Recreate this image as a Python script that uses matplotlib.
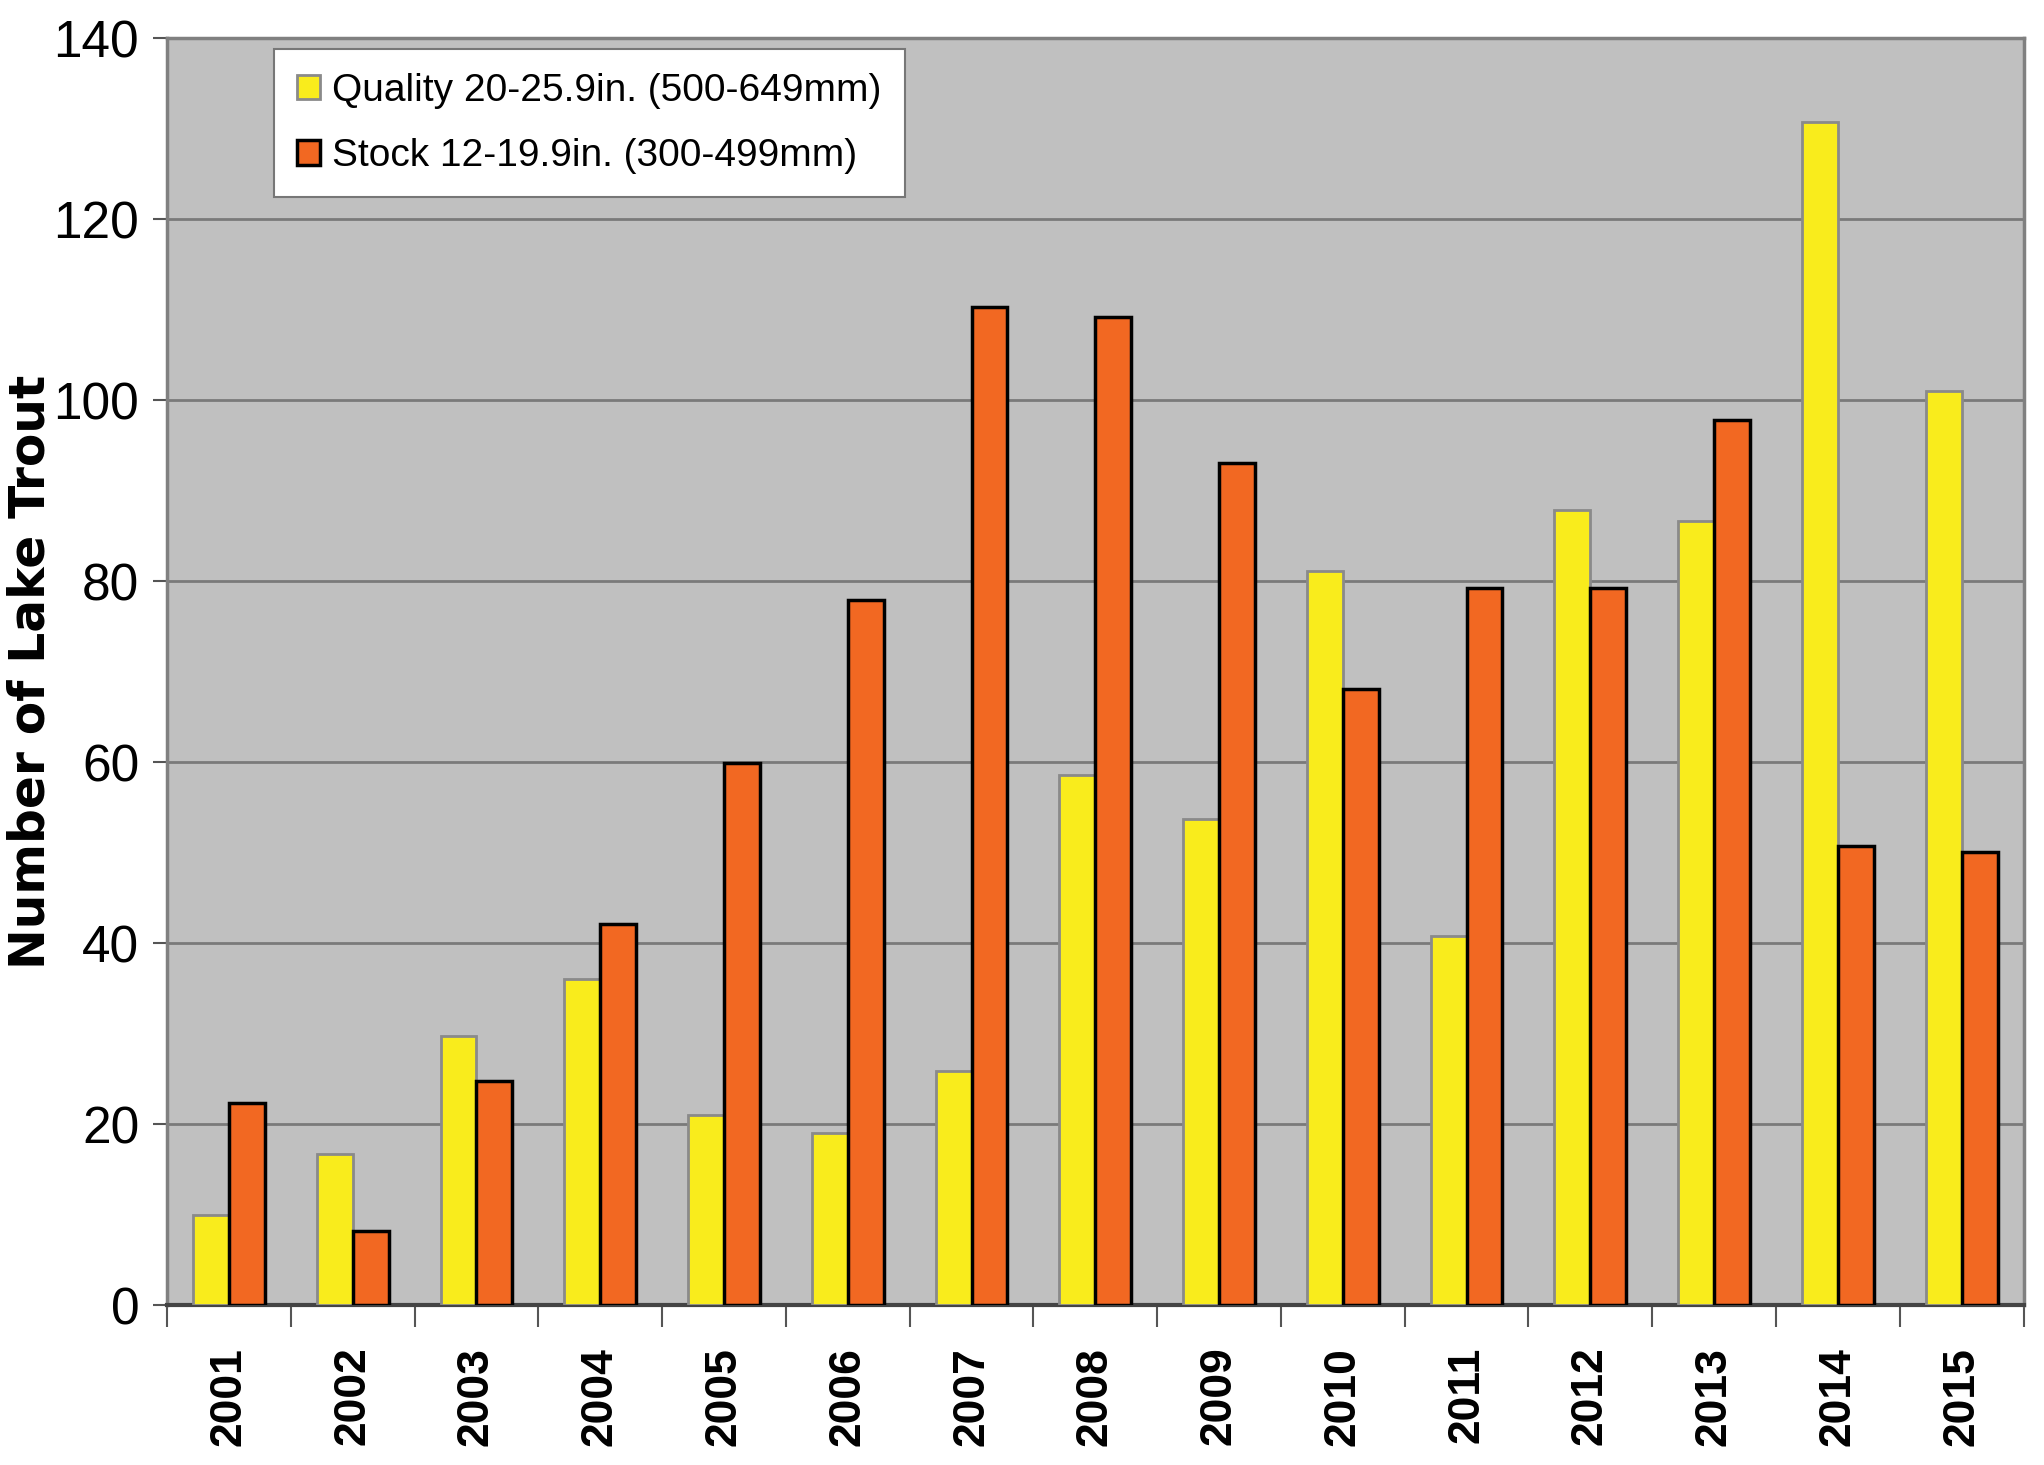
import numpy as np
import matplotlib.pyplot as plt

years = ['2001', '2002', '2003', '2004', '2005', '2006', '2007', '2008',
         '2009', '2010', '2011', '2012', '2013', '2014', '2015']
quality = [9.9, 16.7, 29.7, 36.0, 21.0, 19.0, 25.9, 58.6,
           53.7, 81.1, 40.8, 87.9, 86.6, 130.7, 101.0]
stock = [22.3, 8.2, 24.8, 42.1, 59.9, 77.9, 110.3, 109.2,
         93.0, 68.1, 79.2, 79.2, 97.8, 50.7, 50.1]

sans = ['Liberation Sans', 'DejaVu Sans']


def main():
    fig = plt.figure(figsize=(20.44, 14.65), dpi=100)
    ax = fig.add_axes([0.0817, 0.1092, 0.9083, 0.8648])
    ax.set_facecolor('#c0c0c0')

    x = np.arange(len(years))
    w = 0.29
    ax.bar(x - w / 2, quality, w, color='#f9ec1c', edgecolor='#8a8a8a',
           linewidth=2, zorder=3, label='Quality 20-25.9in. (500-649mm)')
    ax.bar(x + w / 2, stock, w, color='#f26822', edgecolor='black',
           linewidth=2.5, zorder=3, label='Stock 12-19.9in. (300-499mm)')

    ax.set_xlim(-0.5, len(years) - 0.5)
    ax.set_ylim(0, 140)
    ax.set_yticks(np.arange(0, 141, 20))
    ax.yaxis.grid(True, color='#7a7a7a', linewidth=2, zorder=1)
    ax.set_axisbelow(True)

    # year ticks sit between the groups, labels in the middle
    ax.set_xticks(np.arange(-0.5, len(years), 1.0))
    ax.set_xticklabels([])
    ax.set_xticks(x, minor=True)
    ax.set_xticklabels(years, minor=True, rotation=90, fontsize=32,
                       fontweight='bold', family=sans)
    ax.tick_params(axis='x', which='major', length=16, width=1.5, color='#555555')
    ax.tick_params(axis='x', which='minor', length=0, pad=30)
    ax.tick_params(axis='y', length=10, width=1.5, color='#555555', pad=10)
    for lab in ax.get_yticklabels():
        lab.set_fontsize(37)
        lab.set_family(sans)

    for side in ['top', 'right', 'left']:
        ax.spines[side].set_color('#808080')
        ax.spines[side].set_linewidth(2.5)
    ax.spines['bottom'].set_color('#444444')
    ax.spines['bottom'].set_linewidth(3)

    ax.set_ylabel('Number of Lake Trout', fontsize=35, fontweight='bold',
                  family=['DejaVu Sans'])
    ax.yaxis.set_label_coords(-0.0605, 0.5)

    leg = ax.legend(loc='upper left', bbox_to_anchor=(0.0575, 0.991),
                    borderaxespad=0, prop={'family': sans, 'size': 28},
                    fancybox=False, framealpha=1, edgecolor='#777777',
                    handlelength=0.6, handleheight=0.6, handletextpad=0.3,
                    borderpad=0.6, labelspacing=0.75)
    leg.get_frame().set_linewidth(1.5)

    fig.savefig('out.png', dpi=100)


if __name__ == '__main__':
    main()
